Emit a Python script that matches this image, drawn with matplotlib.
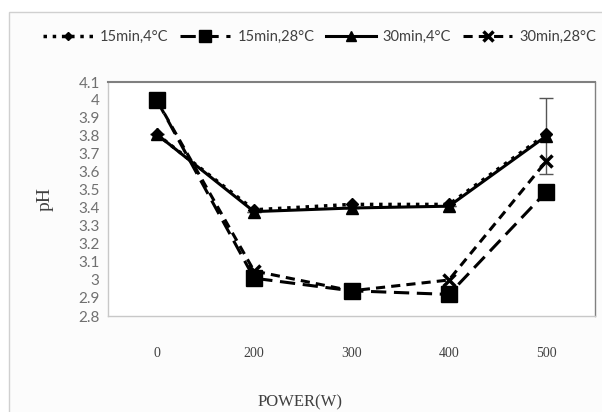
import numpy as np
import matplotlib
matplotlib.use('Agg')
import matplotlib.pyplot as plt
from matplotlib.patches import Rectangle

power = ['0', '200', '300', '400', '500']
ph_15_4 = [3.81, 3.39, 3.42, 3.42, 3.81]
ph_15_28 = [4.00, 3.01, 2.94, 2.92, 3.49]
ph_30_4 = [3.81, 3.38, 3.40, 3.41, 3.80]
ph_30_28 = [4.00, 3.05, 2.94, 3.00, 3.66]
err_30_4 = [0, 0, 0, 0, 0.21]
yticks = [2.8, 2.9, 3.0, 3.1, 3.2, 3.3, 3.4, 3.5, 3.6, 3.7, 3.8, 3.9, 4.0, 4.1]

fig = plt.figure(figsize=(6.02, 4.12), dpi=100)
# outer chart frame
fig.patches.append(Rectangle((9/602, -0.1), 1.0, 1 - 12/412 + 0.1, transform=fig.transFigure,
                             facecolor='#fcfcfc', edgecolor='#d0d0d0', lw=1, zorder=-1))

ax = fig.add_axes([108/602, 1 - 316/412, 487/602, 234/412])
ax.set_facecolor('white')
x = np.arange(len(power))

ax.errorbar(x, ph_30_4, yerr=err_30_4, fmt='none', ecolor='#555555', elinewidth=1,
            capsize=5, capthick=1, zorder=1)
ax.plot(x, ph_15_4, color='black', ls=':', lw=2.5, marker='D', ms=6, label='15min,4°C', zorder=2)
ax.plot(x, ph_30_28, color='black', ls=(0, (3, 2)), lw=2.2, marker='x', ms=9, mew=2.5,
        label='30min,28°C', zorder=3)
ax.plot(x, ph_15_28, color='black', ls=(0, (5, 2.5)), lw=2.2, marker='s', ms=12,
        label='15min,28°C', zorder=4)
ax.plot(x, ph_30_4, color='black', ls='-', lw=2.2, marker='^', ms=9, label='30min,4°C', zorder=5)

ax.set_xlim(-0.5, 4.5)
ax.set_ylim(2.8, 4.1)
ax.set_xticks(x)
ax.set_xticklabels(power, family='Liberation Serif', fontsize=10, color='#404040')
ax.set_yticks(yticks)
ax.set_yticklabels([f'{v:g}' for v in yticks], family='Lato', fontsize=11, color='#707070')
ax.tick_params(length=0)
ax.tick_params(axis='x', pad=22)
ax.tick_params(axis='y', pad=6)
for s in ax.spines.values():
    s.set_color('#c8c8c8')
    s.set_linewidth(1)
ax.spines['top'].set_color('#808080')
ax.spines['top'].set_linewidth(1.5)
ax.spines['right'].set_color('#808080')

ax.set_ylabel('pH', family='Liberation Serif', fontsize=14, color='#404040', labelpad=18)
fig.text(300/602, 1 - 402/412, 'POWER(W)', family='Liberation Serif', fontsize=12,
         color='#404040', ha='center', va='center')

h, l = ax.get_legend_handles_labels()
order = [0, 2, 3, 1]
fig.legend([h[i] for i in order], [l[i] for i in order], loc='center',
           bbox_to_anchor=(320/602, 1 - 37/412), ncol=4, frameon=False,
           prop={'family': 'Lato', 'size': 10.5}, labelcolor='#404040',
           handlelength=3.4, handletextpad=0.5, columnspacing=0.8, markerscale=0.75)

fig.savefig('out.png', dpi=100)
